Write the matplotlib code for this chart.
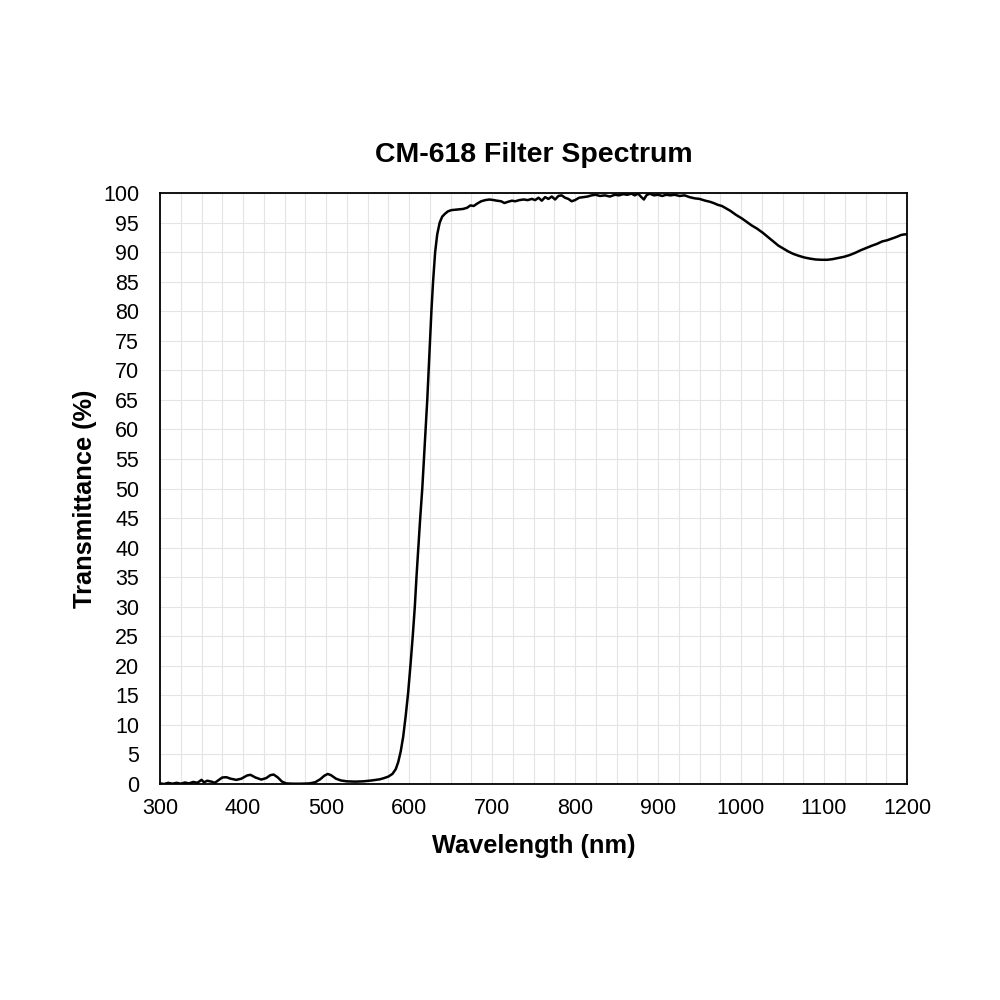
import numpy as np
import matplotlib
matplotlib.use("Agg")
import matplotlib.pyplot as plt
from matplotlib.ticker import MultipleLocator

plt.rcParams['font.family'] = ['Liberation Sans', 'DejaVu Sans']

# spectrum
wavelength = [300, 305, 310, 315, 320, 325, 330, 335, 340, 345, 350, 353, 357, 362, 366,
              370, 375, 380, 385, 392, 398, 405, 409, 415, 422, 428, 433, 437, 442, 447,
              452, 460, 470, 480, 487, 493, 498, 502, 506, 512, 518, 525, 535, 545, 555,
              565, 570, 575, 580, 584, 587, 590, 593, 596, 599, 602, 604.5, 607, 609, 611.2,
              613.5, 616, 618, 620, 622, 623.7, 625.3, 627, 629, 631.5, 634, 637, 640,
              643.4, 647, 651, 658, 665, 670, 674, 678, 682, 687, 692, 697, 702, 706, 711,
              715, 719, 724, 728, 733, 738, 743, 748, 752, 756, 760, 764, 768, 772, 776,
              780, 784, 788, 792, 796, 800, 805, 810, 815, 820, 825, 830, 836, 842, 848,
              853, 858, 863, 868, 872, 876, 880, 883, 886, 890, 895, 900, 905, 910, 915,
              920, 926, 932, 938, 944, 950, 957, 963, 967, 972, 977, 982, 987, 994, 1001,
              1007, 1013, 1019, 1026, 1032, 1039, 1045, 1051, 1057, 1063, 1069, 1076, 1083,
              1090, 1097, 1104, 1110, 1117, 1124, 1131, 1138, 1144, 1151, 1158, 1164, 1170,
              1176, 1182, 1188, 1193, 1197, 1200]
transmittance = [0.1, 0.0, 0.2, 0.05, 0.2, 0.05, 0.25, 0.1, 0.35, 0.2, 0.7, 0.3, 0.55, 0.4, 0.2,
                 0.6, 1.1, 1.15, 0.9, 0.7, 0.9, 1.45, 1.55, 1.1, 0.75, 1.0, 1.5, 1.6, 1.1, 0.4,
                 0.1, 0.05, 0.05, 0.1, 0.3, 0.8, 1.4, 1.7, 1.5, 0.9, 0.6, 0.45, 0.4, 0.45, 0.6,
                 0.8, 1.0, 1.25, 1.7, 2.5, 3.7, 5.5, 8.0, 11.5, 15.5, 20.5, 25.0, 30.0, 35.0, 40.0,
                 45.0, 50.0, 55.0, 60.0, 65.0, 70.0, 75.0, 80.0, 85.0, 90.0, 93.0, 95.0, 96.0,
                 96.5, 96.9, 97.1, 97.2, 97.3, 97.5, 97.9, 97.8, 98.2, 98.6, 98.8, 98.9, 98.8, 98.7, 98.6,
                 98.3, 98.5, 98.7, 98.6, 98.8, 98.9, 98.8, 99.0, 98.8, 99.2, 98.7, 99.3, 99.0, 99.4, 98.9,
                 99.5, 99.6, 99.2, 99.0, 98.6, 98.8, 99.2, 99.3, 99.4, 99.6, 99.7, 99.5, 99.6, 99.4, 99.7,
                 99.6, 99.8, 99.7, 99.9, 99.6, 99.9, 99.3, 98.9, 99.6, 99.9, 99.6, 99.7, 99.5, 99.7, 99.6,
                 99.7, 99.5, 99.6, 99.3, 99.1, 99.0, 98.7, 98.5, 98.3, 98.0, 97.8, 97.4, 97.0, 96.3, 95.7,
                 95.1, 94.5, 94.0, 93.3, 92.6, 91.8, 91.1, 90.6, 90.1, 89.7, 89.4, 89.1, 88.9,
                 88.75, 88.7, 88.7, 88.8, 89.0, 89.2, 89.5, 89.9, 90.3, 90.7, 91.1, 91.4, 91.8,
                 92.0, 92.3, 92.6, 92.9, 93.0, 93.0]

fig = plt.figure(figsize=(10, 10), dpi=100)
ax = fig.add_axes([0.160, 0.216, 0.747, 0.591])

ax.plot(wavelength, transmittance, color='black', lw=1.8, zorder=3)

ax.set_xlim(300, 1200)
ax.set_ylim(0, 100)
ax.xaxis.set_major_locator(MultipleLocator(100))
ax.xaxis.set_minor_locator(MultipleLocator(25))
ax.yaxis.set_major_locator(MultipleLocator(5))
ax.grid(True, which='both', color='#e4e4e4', lw=0.8, zorder=0)
ax.set_axisbelow(True)

ax.tick_params(axis='both', which='both', length=0, labelsize=15.5)
ax.tick_params(axis='x', pad=10)
ax.tick_params(axis='y', pad=15)
for s in ax.spines.values():
    s.set_linewidth(1.3)

ax.set_title('CM-618 Filter Spectrum', fontsize=20.5, fontweight='bold', pad=22)
ax.set_xlabel('Wavelength (nm)', fontsize=18.3, fontweight='bold', labelpad=11)
ax.set_ylabel('Transmittance (%)', fontsize=18.3, fontweight='bold')
ax.yaxis.set_label_coords(-0.084, 0.483)

fig.savefig('out.png', dpi=100)
